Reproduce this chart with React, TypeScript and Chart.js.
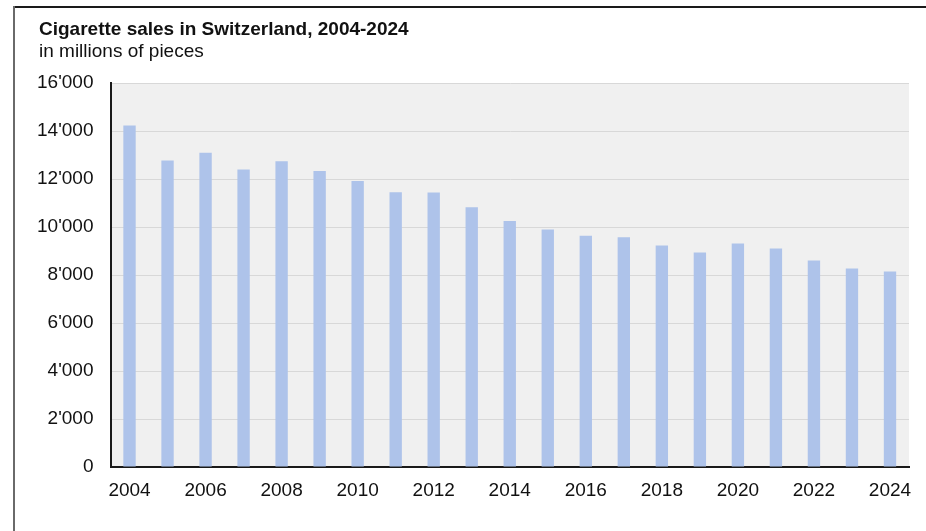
import React, { useEffect, useRef } from "react";
import { Chart, registerables } from "chart.js";

Chart.register(...registerables);

const years: string[] = [
  "2004", "2005", "2006", "2007", "2008", "2009", "2010", "2011", "2012", "2013", "2014",
  "2015", "2016", "2017", "2018", "2019", "2020", "2021", "2022", "2023", "2024",
];
const sales: number[] = [
  14230, 12770, 13090, 12400, 12740, 12330, 11920, 11450, 11440, 10820, 10250,
  9900, 9640, 9570, 9230, 8940, 9310, 9100, 8600, 8270, 8150,
];
const yMin = 0;
const yMax = 16000;
const yStep = 2000;
const titleText = "Cigarette sales in Switzerland, 2004-2024";
const subtitleText = "in millions of pieces";

const FONT = "'Liberation Sans', Arial, Helvetica, sans-serif";

function fmt(v: number): string {
  return String(Math.round(v)).replace(/\B(?=(\d{3})+(?!\d))/g, "'");
}

const plotBg = {
  id: "plotBg",
  beforeDraw(chart: any) {
    const { ctx, chartArea } = chart;
    if (!chartArea) return;
    ctx.save();
    ctx.fillStyle = "#f0f0f0";
    ctx.fillRect(chartArea.left, chartArea.top, chartArea.right - chartArea.left, chartArea.bottom - chartArea.top);
    ctx.restore();
  },
};

export default function App() {
  const ref = useRef<HTMLCanvasElement | null>(null);

  useEffect(() => {
    if (!ref.current) return;
    const chart = new Chart(ref.current, {
      type: "bar",
      data: {
        labels: years,
        datasets: [
          {
            data: sales,
            backgroundColor: "#aec3ea",
            borderWidth: 0,
            barPercentage: 0.325,
            categoryPercentage: 1,
          },
        ],
      },
      options: {
        animation: false,
        responsive: false,
        maintainAspectRatio: false,
        layout: { padding: { left: 0, top: 83, right: 17, bottom: 24 } },
        plugins: {
          legend: { display: false },
          tooltip: { enabled: false },
          title: { display: false },
        },
        scales: {
          x: {
            grid: { display: false, drawTicks: false },
            border: { display: true, color: "#1a1a1a", width: 2 },
            ticks: {
              autoSkip: false,
              maxRotation: 0,
              minRotation: 0,
              padding: 12,
              color: "#111",
              font: { family: FONT, size: 19 },
              callback: function (_v: any, i: number) {
                return i % 2 === 0 ? years[i] : "";
              },
            },
            afterFit: (s: any) => {
              s.height = 40;
            },
          },
          y: {
            min: yMin,
            max: yMax,
            grid: { color: "#d8d8d8", lineWidth: 1, drawTicks: false },
            border: { display: true, color: "#1a1a1a", width: 2 },
            ticks: {
              stepSize: yStep,
              padding: 17,
              color: "#111",
              font: { family: FONT, size: 19 },
              callback: (v: any) => fmt(Number(v)),
            },
            afterFit: (s: any) => {
              s.width = 110.5;
            },
          },
        },
      },
      plugins: [plotBg],
    });
    return () => chart.destroy();
  }, []);

  return (
    <div style={{ position: "fixed", left: 0, top: 0, width: 926, height: 531, background: "#fff", overflow: "hidden" }}>
      <canvas ref={ref} width={926} height={531} style={{ position: "absolute", left: 0, top: 0, display: "block" }} />
      <div style={{ position: "absolute", left: 14, top: 6, right: 0, height: 0, borderTop: "2px solid #1a1a1a" }} />
      <div style={{ position: "absolute", left: 13, top: 6, bottom: 0, width: 0, borderLeft: "2px solid #6a6a6a" }} />
      <div
        style={{
          position: "absolute",
          left: 39,
          top: 17.5,
          fontFamily: FONT,
          fontSize: 19,
          lineHeight: "22px",
          fontWeight: "bold",
          color: "#111",
          whiteSpace: "nowrap",
        }}
      >
        {titleText}
      </div>
      <div
        style={{
          position: "absolute",
          left: 39,
          top: 40,
          fontFamily: FONT,
          fontSize: 19,
          lineHeight: "22px",
          color: "#111",
          whiteSpace: "nowrap",
        }}
      >
        {subtitleText}
      </div>
    </div>
  );
}
